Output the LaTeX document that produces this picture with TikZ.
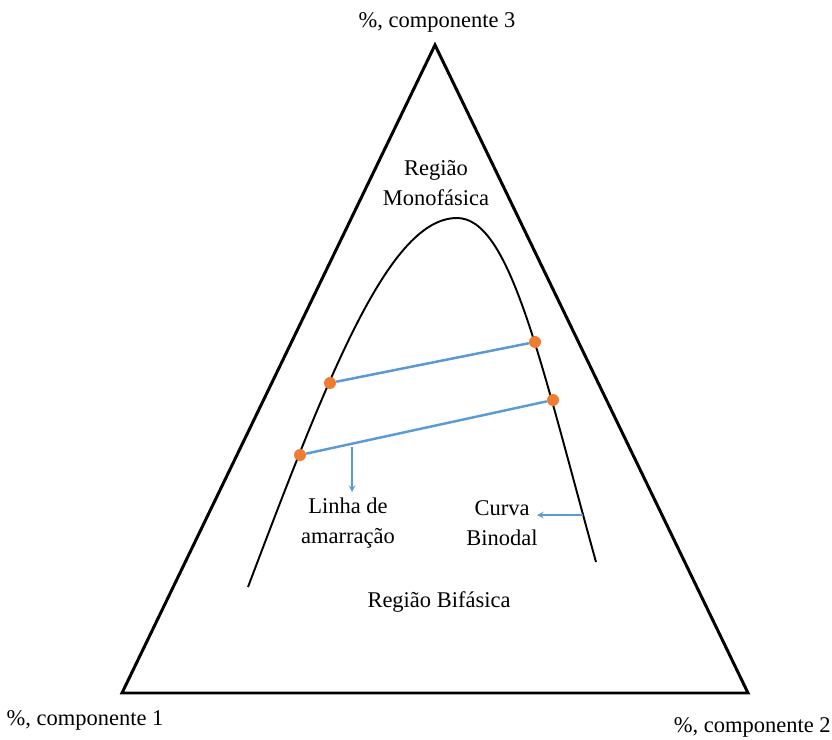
\documentclass[tikz,border=0pt]{standalone}
\usepackage{fontspec}
\setmainfont{Liberation Serif}
\definecolor{tieblue}{RGB}{91,155,213}
\definecolor{dotorange}{RGB}{237,125,49}
\tikzset{
    label text/.style={font=\fontsize{12.8}{17}\selectfont, align=center, inner sep=0pt},
    tiedot/.style={circle, fill=dotorange, minimum size=0.24cm, inner sep=0pt},
    tieline/.style={tieblue, line width=1.4pt},
    pointer/.style={-stealth, tieblue, line width=0.7pt}
}
\begin{document}
\begin{tikzpicture}[x=0.02cm, y=-0.02cm]
    \useasboundingbox (0,0) rectangle (832,740);

    \node[coordinate] (T) at (435,45) {};
    \node[coordinate] (L) at (122,693) {};
    \node[coordinate] (R) at (748,693) {};
    \draw[line width=1.7pt, line join=miter] (T) -- (L) -- (R) -- cycle;

    \node[label text] (C3) at (437,22) {\%, componente 3};
    \node[label text] (C1) at (85,720) {\%, componente 1};
    \node[label text, anchor=east] (C2) at (831,727) {\%, componente 2};

    \node[label text] (M) at (436,183) {Região\\Monofásica};
    \node[label text] (B) at (439,602) {Região Bifásica};
    \node[label text] (LA) at (348,523) {Linha de\\amarração};
    \node[label text] (CB) at (502,523) {Curva\\Binodal};

    % curva binodal
    \node[coordinate] (K0) at (248,587) {};
    \node[coordinate] (K1) at (457,218) {};
    \node[coordinate] (K2) at (596,562) {};
    \draw[line width=1.1pt] (K0) .. controls (330,370) and (390,218) .. (K1)
        .. controls (510,218) and (540,360) .. (K2);

    \node[tiedot] (A1) at (330,383) {};
    \node[tiedot] (B1) at (535,342) {};
    \node[tiedot] (A2) at (300,455) {};
    \node[tiedot] (B2) at (553,400) {};

    \draw[tieline] (A1) -- (B1);
    \draw[tieline] (A2) -- (B2);

    \node[coordinate] (P) at (352,447) {};
    \node[coordinate] (Q) at (352,492) {};
    \node[coordinate] (S) at (583,515) {};
    \node[coordinate] (U) at (537,515) {};
    \draw[pointer] (P) -- (Q);
    \draw[pointer] (S) -- (U);
\end{tikzpicture}
\end{document}
